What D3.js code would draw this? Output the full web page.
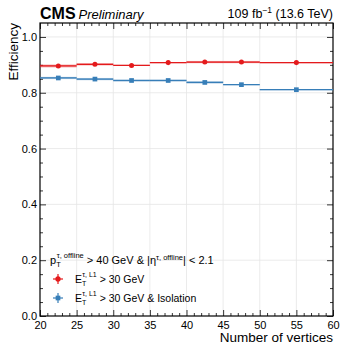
<!DOCTYPE html>
<html lang="en">
<head>
<meta charset="utf-8">
<title>CMS L1 tau efficiency vs vertices</title>
<style>
body { margin: 0; background: #fff; }
svg text { font-family: "Liberation Sans", Arial, sans-serif; fill: #000; }
.tick text { font-size: 11px; }
.grid line { stroke: #e6e6e6; stroke-width: 0.8; }
</style>
</head>
<body>
<div id="chart"></div>
<script src="https://d3js.org/d3.v7.min.js"></script>
<script>
// bins in number of vertices
var binEdges = [20, 25, 30, 35, 40, 45, 50, 60];
var effNoIso = [0.896, 0.902, 0.898, 0.908, 0.910, 0.910, 0.908];
var errNoIso = [0.005, 0.004, 0.002, 0.002, 0.004, 0.004, 0.002];
var effIso = [0.853, 0.849, 0.844, 0.844, 0.837, 0.829, 0.811];
var errIso = [0.004, 0.004, 0.002, 0.002, 0.004, 0.002, 0.002];
var xTicks = [20, 25, 30, 35, 40, 45, 50, 55, 60];
var yTicks = [0.0, 0.2, 0.4, 0.6, 0.8, 1.0];

var red = "#e41a1c", blue = "#377eb8";
var W = 341, H = 344;
var pL = 40, pR = 333, pT = 23, pB = 316;

var svg = d3.select("#chart").append("svg").attr("width", W).attr("height", H);

var x = d3.scaleLinear().domain([20, 60]).range([pL, pR]);
var y = d3.scaleLinear().domain([0, 1.05]).range([pB, pT]);

// grid
var grid = svg.append("g").attr("class", "grid");
grid.selectAll(".gx").data(xTicks.slice(1, -1)).enter().append("line")
  .attr("x1", function(d) { return x(d); }).attr("x2", function(d) { return x(d); })
  .attr("y1", pT).attr("y2", pB);
grid.selectAll(".gy").data(yTicks.slice(1)).enter().append("line")
  .attr("x1", pL).attr("x2", pR)
  .attr("y1", function(d) { return y(d); }).attr("y2", function(d) { return y(d); });

// axes, ticks inward on all sides
function styleAxis(g) {
  g.select(".domain").remove();
  g.selectAll(".tick line").attr("stroke", "#000").attr("stroke-width", 0.8);
}
var minorX = d3.range(20, 61, 1).filter(function(v) { return v % 5 !== 0; });
var minorY = d3.range(0, 1.05, 0.05).filter(function(v, i) { return i % 4 !== 0; });

svg.append("g").attr("transform", "translate(0," + pB + ")")
  .call(d3.axisBottom(x).tickValues(xTicks).tickSize(-6).tickPadding(3).tickFormat(d3.format("d")))
  .call(styleAxis).selectAll("text").attr("dy", "0.9em");
svg.append("g").attr("transform", "translate(0," + pB + ")")
  .call(d3.axisBottom(x).tickValues(minorX).tickSize(-3).tickFormat("")).call(styleAxis);
svg.append("g").attr("transform", "translate(0," + pT + ")")
  .call(d3.axisTop(x).tickValues(xTicks).tickSize(-6).tickFormat("")).call(styleAxis);
svg.append("g").attr("transform", "translate(0," + pT + ")")
  .call(d3.axisTop(x).tickValues(minorX).tickSize(-3).tickFormat("")).call(styleAxis);

svg.append("g").attr("transform", "translate(" + pL + ",0)")
  .call(d3.axisLeft(y).tickValues(yTicks).tickSize(-6).tickPadding(3).tickFormat(d3.format(".1f")))
  .call(styleAxis);
svg.append("g").attr("transform", "translate(" + pL + ",0)")
  .call(d3.axisLeft(y).tickValues(minorY).tickSize(-3).tickFormat("")).call(styleAxis);
svg.append("g").attr("transform", "translate(" + pR + ",0)")
  .call(d3.axisRight(y).tickValues(yTicks).tickSize(-6).tickFormat("")).call(styleAxis);
svg.append("g").attr("transform", "translate(" + pR + ",0)")
  .call(d3.axisRight(y).tickValues(minorY).tickSize(-3).tickFormat("")).call(styleAxis);

// frame
svg.append("rect").attr("x", pL).attr("y", pT)
  .attr("width", pR - pL).attr("height", pB - pT)
  .attr("fill", "none").attr("stroke", "#000").attr("stroke-width", 1.2);

// histogram series
var bins = effNoIso.map(function(d, i) { return { lo: binEdges[i], hi: binEdges[i + 1] }; });

function drawSeries(vals, errs, color, shape) {
  var g = svg.append("g");
  g.selectAll(".band").data(bins).enter().append("rect")
    .attr("x", function(d) { return x(d.lo); })
    .attr("width", function(d) { return x(d.hi) - x(d.lo); })
    .attr("y", function(d, i) { return y(vals[i] + errs[i]); })
    .attr("height", function(d, i) { return y(vals[i] - errs[i]) - y(vals[i] + errs[i]); })
    .attr("fill", color).attr("opacity", 0.4);
  g.selectAll(".step").data(bins).enter().append("line")
    .attr("x1", function(d) { return x(d.lo); })
    .attr("x2", function(d) { return x(d.hi); })
    .attr("y1", function(d, i) { return y(vals[i]); })
    .attr("y2", function(d, i) { return y(vals[i]); })
    .attr("stroke", color).attr("stroke-width", 1.3);
  var sym = d3.symbol().type(shape).size(shape === d3.symbolSquare ? 22 : 20);
  g.selectAll(".pt").data(bins).enter().append("path")
    .attr("d", sym)
    .attr("transform", function(d, i) { return "translate(" + x((d.lo + d.hi) / 2) + "," + y(vals[i]) + ")"; })
    .attr("fill", color);
}
drawSeries(effNoIso, errNoIso, red, d3.symbolCircle);
drawSeries(effIso, errIso, blue, d3.symbolSquare);

// header texts
var head = svg.append("text").attr("x", pL).attr("y", 19);
head.append("tspan").attr("font-weight", "bold").attr("font-size", "16px").text("CMS");
head.append("tspan").attr("font-style", "italic").attr("font-size", "13px").attr("dx", 3).text("Preliminary");

var lumi = svg.append("text").attr("x", pR).attr("y", 18).attr("text-anchor", "end").attr("font-size", "12.5px");
lumi.append("tspan").text("109 fb");
lumi.append("tspan").attr("dy", -5).attr("font-size", "8.5px").text("\u22121");
lumi.append("tspan").attr("dy", 5).text(" (13.6 TeV)");

// axis titles
svg.append("text").attr("transform", "translate(18," + pT + ") rotate(-90)")
  .attr("text-anchor", "end").attr("font-size", "13.5px").text("Efficiency");
svg.append("text").attr("x", pR).attr("y", 342)
  .attr("text-anchor", "end").attr("font-size", "13.5px").text("Number of vertices");

// legend
var sel = svg.append("text").attr("x", 50).attr("y", 264).attr("font-size", "11px");
sel.append("tspan").text("p");
sel.append("tspan").attr("font-size", "7.5px").attr("dy", 3).text("T");
sel.append("tspan").attr("font-size", "7.5px").attr("dx", -4).attr("dy", -9.5).text("\u03c4, offline");
sel.append("tspan").attr("dy", 6.5).text(" > 40 GeV & |\u03b7");
sel.append("tspan").attr("font-size", "7.5px").attr("dy", -4).text("\u03c4, offline");
sel.append("tspan").attr("dy", 4).text("| < 2.1");

var legendItems = [
  { label: " > 30 GeV", color: red, shape: d3.symbolCircle, yy: 279 },
  { label: " > 30 GeV & Isolation", color: blue, shape: d3.symbolSquare, yy: 298 }
];
legendItems.forEach(function(it) {
  var cx = 58;
  svg.append("line").attr("x1", cx - 5).attr("x2", cx + 5).attr("y1", it.yy).attr("y2", it.yy)
    .attr("stroke", it.color).attr("stroke-width", 1.2);
  svg.append("line").attr("x1", cx).attr("x2", cx).attr("y1", it.yy - 5).attr("y2", it.yy + 5)
    .attr("stroke", it.color).attr("stroke-width", 1.2);
  svg.append("path").attr("d", d3.symbol().type(it.shape).size(22))
    .attr("transform", "translate(" + cx + "," + it.yy + ")").attr("fill", it.color);
  var t = svg.append("text").attr("x", 75).attr("y", it.yy + 3.5).attr("font-size", "10.5px");
  t.append("tspan").text("E");
  t.append("tspan").attr("font-size", "7px").attr("dy", 3).text("T");
  t.append("tspan").attr("font-size", "7px").attr("dx", -4).attr("dy", -9).text("\u03c4, L1");
  t.append("tspan").attr("dy", 6).text(it.label);
});
</script>
</body>
</html>
